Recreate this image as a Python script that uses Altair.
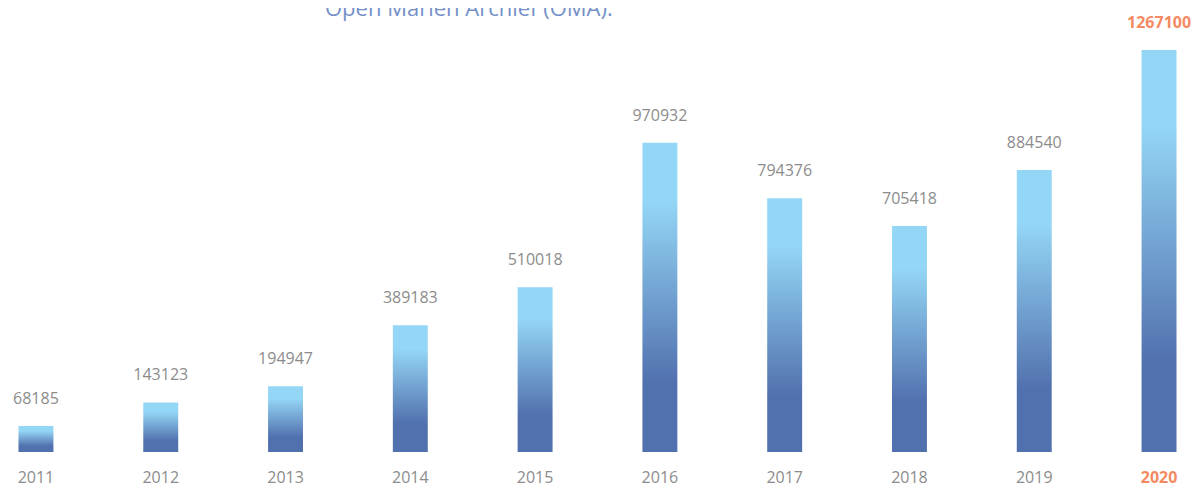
import altair as alt
import pandas as pd

years = ["2011", "2012", "2013", "2014", "2015", "2016", "2017", "2018", "2019", "2020"]
values = [68185, 143123, 194947, 389183, 510018, 970932, 794376, 705418, 884540, 1267100]
highlight = ["no"] * 9 + ["yes"]
title_text = ["Open Marien Archief (OMA)."]

df = pd.DataFrame({"year": years, "value": values, "hl": highlight})
df_title = pd.DataFrame({"t": title_text})

LIGHT = "#94D6F5"
DARK = "#5170AE"
GREY = "#8c8c8c"
ORANGE = "#F58A62"
FONT = "Open Sans"
Y_MIN = -15000
Y_MAX = 1337040

grad = alt.LinearGradient(
    gradient="linear",
    stops=[
        alt.GradientStop(color=DARK, offset=0),
        alt.GradientStop(color=DARK, offset=0.22),
        alt.GradientStop(color=LIGHT, offset=0.81),
        alt.GradientStop(color=LIGHT, offset=1),
    ],
    x1=1, x2=1, y1=1, y2=0,
)

x = alt.X(
    "year:N",
    sort=years,
    title=None,
    scale=alt.Scale(paddingInner=0.72, paddingOuter=0.084),
    axis=alt.Axis(
        domain=False, ticks=False, grid=False, labelAngle=0,
        labelFont=FONT, labelFontSize=16, labelPadding=17,
        labelColor={"expr": f"datum.value == '2020' ? '{ORANGE}' : '{GREY}'"},
        labelFontWeight={"expr": "datum.value == '2020' ? 'bold' : 'normal'"},
    ),
)
y = alt.Y("value:Q", title=None, axis=None,
          scale=alt.Scale(domain=[Y_MIN, Y_MAX], nice=False, zero=False))

bars = alt.Chart(df).mark_bar(color=grad).encode(x=x, y=y, y2=alt.datum(Y_MIN))

labels = alt.Chart(df).transform_filter(alt.datum.hl == "no").mark_text(
    dy=-22, baseline="alphabetic", font=FONT, fontSize=16, color=GREY
).encode(
    x=alt.X("year:N", sort=years),
    y="value:Q",
    text="value:Q",
)

labels_hl = alt.Chart(df).transform_filter(alt.datum.hl == "yes").mark_text(
    dy=-22, baseline="alphabetic", font=FONT, fontSize=16, color=ORANGE, fontWeight="bold"
).encode(
    x=alt.X("year:N", sort=years),
    y="value:Q",
    text="value:Q",
)

title = alt.Chart(df_title).mark_text(
    align="left", baseline="alphabetic", font=FONT, fontSize=22, color="#7590C8"
).encode(
    x=alt.value(317), y=alt.value(-12), text="t:N"
)

chart = alt.layer(bars, labels, labels_hl, title).properties(
    width=1179,
    height=424,
    autosize=alt.AutoSizeParams(type="none"),
    padding={"left": 0, "top": 20, "right": 4, "bottom": 34},
).configure_view(stroke=None)

chart.save("out.html", embed_options={"renderer": "svg", "actions": False})
